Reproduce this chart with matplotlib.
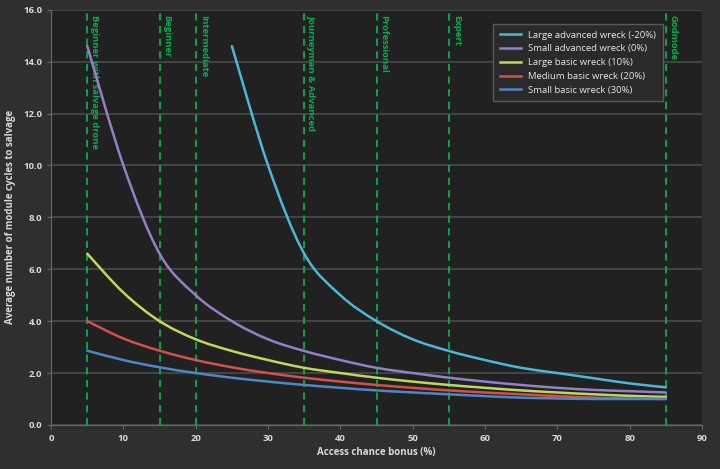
import matplotlib
matplotlib.use("Agg")
import matplotlib.pyplot as plt
from matplotlib.path import Path
from matplotlib.patches import PathPatch
from matplotlib.lines import Line2D

plt.rcParams['font.family'] = ['Open Sans', 'DejaVu Sans']

# access chance bonus (%)
bonus = [5, 10, 15, 20, 25, 30, 35, 40, 45, 50, 55, 60, 65, 70, 75, 80, 85]
bonus_large_adv = [25, 30, 35, 40, 45, 50, 55, 60, 65, 70, 75, 80, 85]

large_adv = [14.6, 10.0, 6.6, 5.0, 4.0, 3.3, 2.85, 2.5, 2.2, 2.0, 1.8, 1.6, 1.45]
small_adv = [14.6, 10.0, 6.6, 5.0, 4.0, 3.3, 2.85, 2.5, 2.2, 2.0, 1.82, 1.67,
             1.54, 1.43, 1.35, 1.3, 1.25]
large_basic = [6.6, 5.1, 4.0, 3.3, 2.85, 2.5, 2.2, 2.0, 1.82, 1.67, 1.54, 1.43,
               1.33, 1.25, 1.18, 1.12, 1.08]
medium_basic = [4.0, 3.33, 2.86, 2.5, 2.22, 2.0, 1.82, 1.67, 1.54, 1.43, 1.33,
                1.25, 1.18, 1.11, 1.05, 1.02, 1.0]
small_basic = [2.86, 2.5, 2.22, 2.0, 1.82, 1.67, 1.54, 1.43, 1.33, 1.25, 1.18,
               1.11, 1.05, 1.02, 1.0, 1.0, 1.0]

series_names = ["Large advanced wreck (-20%)", "Small advanced wreck (0%)",
                "Large basic wreck (10%)", "Medium basic wreck (20%)",
                "Small basic wreck (30%)"]
series_colors = ["#4bb8d6", "#9580c8", "#c3d65a", "#d0524e", "#4f86c6"]

# skill levels marked by vertical lines
level_x = [5, 15, 20, 35, 45, 55, 85]
level_names = ["Beginner with salvage drone", "Beginner", "Intermediate",
               "Journeyman & Advanced", "Professional", "Expert", "Godmode"]

bg_outer = "#2f2f2f"
bg_plot = "#212121"
grid_col = "#4a4a4a"
text_col = "#d9d9d9"
green = "#00b050"


def smooth_line(ax, xs, ys, color, lw):
    # excel-style smoothed line: bezier segments through the data points
    n = len(xs)
    verts = [(xs[0], ys[0])]
    codes = [Path.MOVETO]
    for i in range(n - 1):
        x0, y0 = (xs[i - 1], ys[i - 1]) if i > 0 else (xs[i], ys[i])
        x1, y1 = xs[i], ys[i]
        x2, y2 = xs[i + 1], ys[i + 1]
        x3, y3 = (xs[i + 2], ys[i + 2]) if i + 2 < n else (x2, y2)
        verts += [(x1 + (x2 - x0) / 6, y1 + (y2 - y0) / 6),
                  (x2 - (x3 - x1) / 6, y2 - (y3 - y1) / 6),
                  (x2, y2)]
        codes += [Path.CURVE4] * 3
    ax.add_patch(PathPatch(Path(verts, codes), facecolor='none',
                           edgecolor=color, lw=lw, zorder=3,
                           capstyle='round', joinstyle='round'))


fig = plt.figure(figsize=(7.2, 4.69), dpi=100, facecolor=bg_outer)
ax = fig.add_axes([0.071, 0.094, 0.904, 0.885], facecolor=bg_plot)

ax.set_xlim(0, 90)
ax.set_ylim(0, 16)
ax.set_xticks(range(0, 91, 10))
ax.set_yticks([0, 2, 4, 6, 8, 10, 12, 14, 16])
ax.set_yticklabels(["%.1f" % v for v in ax.get_yticks()])
ax.grid(axis='y', color=grid_col, linewidth=1.2)
ax.set_axisbelow(True)

for s in ['top', 'right']:
    ax.spines[s].set_visible(False)
for s in ['left', 'bottom']:
    ax.spines[s].set_color("#6a6a6a")
ax.tick_params(colors="#6a6a6a", labelcolor=text_col, labelsize=6.8, length=3)
for lab in ax.get_xticklabels() + ax.get_yticklabels():
    lab.set_fontweight('bold')

for x, name in zip(level_x, level_names):
    ax.axvline(x, color=green, linestyle=(0, (4, 3)), linewidth=1.3, zorder=1)
    ax.text(x + 0.4, 15.8, name, rotation=270, color=green, fontsize=6.8,
            fontweight='bold', ha='left', va='top', zorder=1)

lw = 1.8
all_x = [bonus_large_adv, bonus, bonus, bonus, bonus]
all_y = [large_adv, small_adv, large_basic, medium_basic, small_basic]
handles = []
for xs, ys, col, name in zip(all_x, all_y, series_colors, series_names):
    smooth_line(ax, xs, ys, col, lw)
    handles.append(Line2D([], [], color=col, lw=lw, label=name))

leg = ax.legend(handles=handles, loc='upper left',
                bbox_to_anchor=(0.672, 0.977), fontsize=6.8,
                frameon=True, facecolor="#2a2a2a", edgecolor="#5a5a5a",
                framealpha=1, handlelength=2.2, labelspacing=0.5,
                borderpad=0.7, fancybox=False)
for t in leg.get_texts():
    t.set_color("#e6e6e6")

ax.set_xlabel("Access chance bonus (%)", color=text_col, fontsize=7,
              fontweight='bold', labelpad=3)
ax.set_ylabel("Average number of module cycles to salvage", color=text_col,
              fontsize=7, fontweight='bold', labelpad=5)

fig.savefig("out.png", dpi=100, facecolor=bg_outer)
